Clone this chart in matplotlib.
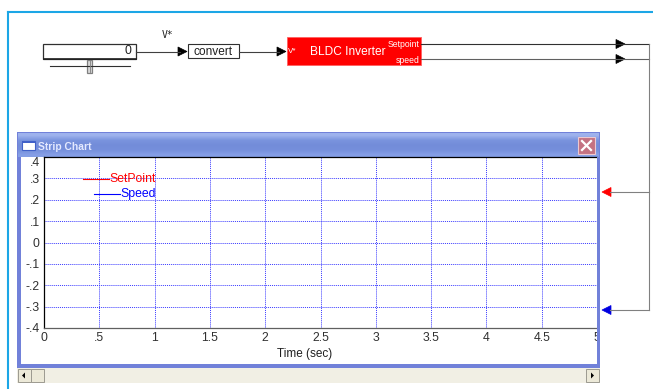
import matplotlib
matplotlib.use('Agg')
import matplotlib.pyplot as plt
from matplotlib.patches import Rectangle, Polygon
import numpy as np

plt.rcParams['font.family'] = ['Liberation Sans', 'DejaVu Sans']

W, H = 653, 389

# strip chart settings
t_start, t_end = 0, 5
y_min, y_max = -0.4, 0.4
x_ticks = [0, 0.5, 1, 1.5, 2, 2.5, 3, 3.5, 4, 4.5, 5]
x_tick_labels = ['0', '.5', '1', '1.5', '2', '2.5', '3', '3.5', '4', '4.5', '5']
y_ticks = [-0.4, -0.3, -0.2, -0.1, 0, 0.1, 0.2, 0.3, 0.4]
y_tick_labels = ['-.4', '-.3', '-.2', '-.1', '0', '.1', '.2', '.3', '.4']
series_names = ['SetPoint', 'Speed']
series_colors = ['#ff0000', '#0000ff']

# nothing recorded yet, the simulation is still at t = 0
setpoint_time = []
setpoint_values = []
speed_time = []
speed_values = []

slider_value = 0

LINE = '#404040'
WIN = '#7181d9'


def px_rect(x0, y0, x1, y1):
    # pixel box (origin top-left) -> figure fraction rect
    return [x0 / W, 1 - y1 / H, (x1 - x0) / W, (y1 - y0) / H]


def pixel_axes(zorder):
    a = plt.gcf().add_axes([0, 0, 1, 1], zorder=zorder)
    a.set_facecolor('none')
    a.axis('off')
    a.set_xlim(0, W)
    a.set_ylim(H, 0)
    a.set_autoscale_on(False)
    return a


def arrow_head(ax, tip_x, y, direction, color='black'):
    # small filled triangle, direction +1 points right, -1 points left
    base = tip_x - 9 * direction
    ax.add_patch(Polygon([(base, y - 4.5), (tip_x, y), (base, y + 4.5)],
                         closed=True, fc=color, ec=color, lw=0.5))


fig = plt.figure(figsize=(W / 100, H / 100), dpi=100)
fig.patch.set_facecolor('white')

# ---- background: canvas, block diagram, window frame
bg = pixel_axes(0)

# canvas border
bg.plot([8, 8], [12, H], color='#1ca6e6', lw=1.5)
bg.plot([8, W], [12, 12], color='#1ca6e6', lw=1.5)

# slider block
bg.add_patch(Rectangle((43, 44), 93, 14.5, fc='white', ec='#303030', lw=0.9))
bg.plot([44, 136], [58.5, 58.5], color='#202020', lw=1.2)
bg.text(131, 51, str(slider_value), ha='right', va='center', fontsize=8.8, color='#202020')
bg.plot([50, 130], [66, 66], color='#303030', lw=0.8)
bg.add_patch(Rectangle((87, 60), 5, 13, fc='#d8d8d8', ec='#808080', lw=0.9))
bg.plot([89.5, 89.5], [61, 72], color='#808080', lw=0.6)

# V* wire and convert block
bg.text(168, 35, 'V*', ha='center', va='center', fontsize=7, family='DejaVu Sans Mono', color='#202020')
bg.plot([136, 180], [51.5, 51.5], color=LINE, lw=0.8)
arrow_head(bg, 187, 51.5, 1)
bg.add_patch(Rectangle((188, 44), 51, 14, fc='white', ec='#303030', lw=0.8))
bg.text(213.5, 51.5, 'convert', ha='center', va='center', fontsize=8.6, color='#202020')
bg.plot([239, 279], [51.5, 51.5], color=LINE, lw=0.8)
arrow_head(bg, 286, 51.5, 1)

# BLDC inverter block
bg.add_patch(Rectangle((287, 37), 134, 28, fc='#ff0000', ec='#ff6060', lw=0.6))
bg.text(288, 51.5, 'V*', ha='left', va='center', fontsize=5.8, color='white')
bg.text(348, 51.5, 'BLDC Inverter', ha='center', va='center', fontsize=8.6, color='white')
bg.text(420, 44.5, 'Setpoint', ha='right', va='center', fontsize=6.2, color='white')
bg.text(420, 60, 'speed', ha='right', va='center', fontsize=6.2, color='white')

# outputs routed back to the strip chart inputs
bg.plot([421, 649], [44, 44], color='#303030', lw=0.8)
bg.plot([421, 649], [59, 59], color='#606060', lw=0.8)
arrow_head(bg, 625, 44, 1)
arrow_head(bg, 625, 59, 1)
bg.plot([649, 649], [44, 310], color='#808080', lw=0.8)
bg.plot([610, 649], [192, 192], color='#808080', lw=0.8)
bg.plot([610, 649], [310, 310], color='#808080', lw=0.8)
arrow_head(bg, 602, 192, -1, '#ff0000')
arrow_head(bg, 602, 310, -1, '#0000e0')

# strip chart window
bg.add_patch(Rectangle((17, 132), 583, 236, fc=WIN, ec='none'))
grad = np.array([[0.62, 0.70, 0.93], [0.48, 0.58, 0.87], [0.45, 0.55, 0.85],
                 [0.46, 0.56, 0.86], [0.52, 0.62, 0.90]]).reshape(5, 1, 3)
bg.imshow(grad, extent=(18, 599, 157, 133), aspect='auto', interpolation='bilinear', zorder=1)
bg.add_patch(Rectangle((21, 157), 576, 207, fc='white', ec='none', zorder=2))
bg.add_patch(Rectangle((22, 141), 13, 9, fc='white', ec='#4060c8', lw=0.8, zorder=3))
bg.add_patch(Rectangle((22, 141), 13, 2, fc='#4060c8', ec='none', zorder=3))
bg.text(38, 146.5, 'Strip Chart', ha='left', va='center', fontsize=7.4, weight='bold',
        color='#e4e9ff', zorder=3)
bg.add_patch(Rectangle((578, 137), 17, 17, fc='#c47282', ec='#ecc8d0', lw=0.8, zorder=3))
bg.plot([582, 591], [141, 150], color='white', lw=1.6, zorder=4)
bg.plot([582, 591], [150, 141], color='white', lw=1.6, zorder=4)

# scroll bar
bg.add_patch(Rectangle((17, 368), 583, 15, fc='#f1efe4', ec='none', zorder=2))
for x0 in (18, 31, 586):
    bg.add_patch(Rectangle((x0, 369), 13, 13, fc='#ece9d8', ec='#9c9a90', lw=0.7, zorder=3))
bg.add_patch(Polygon([(22, 375.5), (25, 372.5), (25, 378.5)], fc='black', zorder=4))
bg.add_patch(Polygon([(594, 375.5), (591, 372.5), (591, 378.5)], fc='black', zorder=4))

bg.text(305, 353.5, 'Time (sec)', ha='center', va='center', fontsize=8.5, color='#202020', zorder=3)

bg.set_xlim(0, W)
bg.set_ylim(H, 0)

# ---- the chart itself
ax = fig.add_axes(px_rect(44, 157, 597, 328), zorder=1)
ax.set_facecolor('white')
ax.plot(setpoint_time, setpoint_values, color=series_colors[0], lw=0.8)
ax.plot(speed_time, speed_values, color=series_colors[1], lw=0.8)
ax.set_xlim(t_start, t_end)
ax.set_ylim(y_min, y_max)
ax.set_xticks(x_ticks)
ax.set_xticklabels(x_tick_labels)
ax.set_yticks(y_ticks)
ax.set_yticklabels(y_tick_labels)
ax.tick_params(length=0, pad=3, labelsize=8.8, labelcolor='#303030')
ax.yaxis.get_major_ticks()[-1].label1.set_verticalalignment('top')
ax.grid(True, color='#3a3aff', linestyle=(0, (1, 1)), lw=0.7)
ax.spines['right'].set_visible(False)
ax.spines['top'].set_color('black')
ax.spines['left'].set_color('black')
ax.spines['bottom'].set_color('#606060')
for s in ('top', 'left', 'bottom'):
    ax.spines[s].set_linewidth(0.9)

# ---- overlay: right window edge clips the chart, legend
ov = pixel_axes(2)
ov.add_patch(Rectangle((597, 157), 3, 211, fc=WIN, ec='none'))
ov.add_patch(Rectangle((600, 329), 20, 20, fc='white', ec='none'))

renderer = fig.canvas.get_renderer()
for name, color, y in zip(series_names, series_colors, (179, 194)):
    t = ov.text(155.5, y, name, ha='right', va='center', fontsize=8.8, color=color)
    left = t.get_window_extent(renderer).x0
    ov.plot([left - 26, left], [y, y], color=color, lw=0.8)

fig.savefig('out.png', dpi=100)
